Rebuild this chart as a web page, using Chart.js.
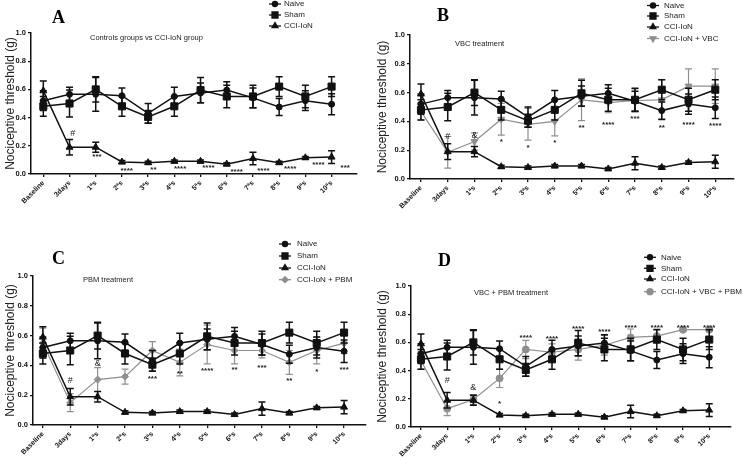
<!DOCTYPE html>
<html><head><meta charset="utf-8">
<script src="https://cdn.jsdelivr.net/npm/chart.js@4/dist/chart.umd.min.js"></script>
<style>
html,body{margin:0;padding:0;background:#fff;}
#wrap{position:relative;width:743px;height:457px;overflow:hidden;background:#fff;}
canvas{position:absolute;}
</style></head><body>
<div id="wrap">
<canvas id="cA" width="372" height="228" style="left:0;top:0;width:372px;height:228px"></canvas>
<canvas id="cB" width="371" height="228" style="left:372px;top:0;width:371px;height:228px"></canvas>
<canvas id="cC" width="372" height="229" style="left:0;top:228px;width:372px;height:229px"></canvas>
<canvas id="cD" width="371" height="229" style="left:372px;top:228px;width:371px;height:229px"></canvas>
</div>
<script>
// ---- data ----
const xLabels = ['Baseline','3days','1ªs','2ªs','3ªs','4ªs','5ªs','6ªs','7ªs','8ªs','9ªs','10ªs'];
const yTicks = [0.0, 0.2, 0.4, 0.6, 0.8, 1.0];
const naive    = [0.52,0.565,0.565,0.555,0.43,0.55,0.575,0.595,0.54,0.475,0.52,0.495];
const naiveErr = [0.07,0.05,0.12,0.055,0.07,0.065,0.07,0.06,0.07,0.06,0.07,0.075];
const sham     = [0.48,0.50,0.60,0.48,0.405,0.48,0.595,0.55,0.55,0.62,0.55,0.62];
const shamErr  = [0.07,0.095,0.09,0.07,0.045,0.07,0.09,0.08,0.08,0.07,0.08,0.07];
const cci      = [0.59,0.19,0.19,0.085,0.08,0.09,0.09,0.07,0.11,0.08,0.115,0.12];
const cciErr   = [0.07,0.055,0.035,0.01,0.01,0.01,0.01,0.01,0.045,0.01,0.01,0.045];
const vbc      = [0.47,0.185,0.26,0.415,0.38,0.40,0.55,0.53,0.545,0.55,0.645,0.645];
const vbcErr   = [0.06,0.11,0.06,0.11,0.11,0.10,0.145,0.07,0.08,0.14,0.12,0.12];
const pbm      = [0.55,0.15,0.305,0.325,0.50,0.42,0.54,0.50,0.50,0.42,0.50,0.55];
const pbmErr   = [0.10,0.06,0.08,0.05,0.06,0.09,0.13,0.09,0.05,0.08,0.09,0.07];
const combo    = [0.47,0.13,0.195,0.345,0.55,0.53,0.55,0.58,0.635,0.645,0.69,0.69];
const comboErr = [0.06,0.05,0.035,0.065,0.065,0.06,0.075,0.07,0.06,0.05,0.01,0.01];
// significance marks: [x index, y value, text]
const notesA = [[1.12,0.29,'#'],[2.05,0.135,'***'],[3.18,0.04,'****'],[4.2,0.047,'**'],[5.22,0.052,'****'],[6.3,0.057,'****'],[7.38,0.033,'****'],[8.4,0.04,'****'],[9.42,0.052,'****'],[10.5,0.076,'****'],[11.52,0.057,'***']];
const notesB = [[1,0.295,'#'],[2,0.30,'&'],[3,0.27,'*'],[4,0.23,'*'],[5,0.265,'*'],[6,0.37,'**'],[7,0.39,'****'],[8,0.43,'***'],[9,0.37,'**'],[10,0.39,'****'],[11,0.38,'****']];
const notesC = [[1,0.30,'#'],[2,0.41,'&'],[4,0.325,'***'],[5,0.36,'**'],[6,0.38,'****'],[7,0.385,'**'],[8,0.40,'***'],[9,0.31,'**'],[10,0.37,'*'],[11,0.385,'***']];
const notesD = [[1,0.33,'#'],[2,0.28,'&'],[3,0.18,'*'],[4,0.645,'****'],[5,0.64,'****'],[6,0.71,'****'],[7,0.69,'****'],[8,0.72,'****'],[9,0.72,'****'],[10,0.72,'****'],[11,0.72,'****']];

// ---- styling ----
const FAM = '"Liberation Sans", Arial, sans-serif';
const BLACK = '#111111';
const GRAY = '#8f8f8f';
const tickFont = {family: FAM, size: 7, weight: 'bold'};

const baseSeries = [
  {label:'Naive', values:naive, err:naiveErr, color:BLACK, style:'circle', r:3, lw:1.5},
  {label:'Sham', values:sham, err:shamErr, color:BLACK, style:'rect', r:5, lw:1.5},
  {label:'CCI-IoN', values:cci, err:cciErr, color:BLACK, style:'triangle', r:4, lw:1.5}
];

const errPlugin = {
  id: 'errbars',
  beforeDatasetDraw(chart, args) {
    const ds = chart.data.datasets[args.index];
    if (!ds.err) return;
    const ctx = chart.ctx, ys = chart.scales.y;
    ctx.save();
    ctx.strokeStyle = ds.borderColor;
    ctx.lineWidth = ds.borderWidth;
    args.meta.data.forEach((pt, i) => {
      const v = ds.data[i].y, e = ds.err[i];
      const y1 = ys.getPixelForValue(v + e), y2 = ys.getPixelForValue(v - e);
      ctx.beginPath();
      ctx.moveTo(pt.x, y1); ctx.lineTo(pt.x, y2);
      ctx.moveTo(pt.x - 3.5, y1); ctx.lineTo(pt.x + 3.5, y1);
      ctx.moveTo(pt.x - 3.5, y2); ctx.lineTo(pt.x + 3.5, y2);
      ctx.stroke();
    });
    ctx.restore();
  }
};

function makeTextPlugin(cfg) {
  return {
    id: 'panelText',
    afterDraw(chart) {
      const ctx = chart.ctx, xs = chart.scales.x, ys = chart.scales.y;
      ctx.save();
      ctx.fillStyle = '#000';
      ctx.textAlign = 'left';
      ctx.textBaseline = 'alphabetic';
      ctx.font = 'bold 18px "Liberation Serif", "DejaVu Serif", serif';
      ctx.fillText(cfg.letter, cfg.letterPos[0], cfg.letterPos[1]);
      ctx.font = '7.5px ' + FAM;
      ctx.fillStyle = '#222';
      ctx.textBaseline = 'middle';
      ctx.fillText(cfg.subtitle, cfg.subPos[0], cfg.subPos[1]);
      chart.data.datasets.forEach((ds, i) => {
        const y = cfg.legend.rows[i], mx = cfg.legend.mx;
        ctx.strokeStyle = ds.borderColor;
        ctx.lineWidth = 1.3;
        ctx.beginPath(); ctx.moveTo(mx - 6, y); ctx.lineTo(mx + 6, y); ctx.stroke();
        ctx.fillStyle = ds.borderColor;
        Chart.helpers.drawPoint(ctx, {pointStyle: ds.pointStyle, rotation: ds.pointRotation, radius: ds.pointRadius * 0.85, borderWidth: 1}, mx, y);
        ctx.fillStyle = '#222';
        ctx.font = '8px ' + FAM;
        ctx.textAlign = 'left';
        ctx.fillText(ds.label, cfg.legend.tx, y);
      });
      ctx.textAlign = 'center';
      cfg.notes.forEach(([xi, yv, t]) => {
        const px = xs.getPixelForValue(xi), py = ys.getPixelForValue(yv);
        const star = t[0] === '*';
        ctx.font = star ? 'bold 8px ' + FAM : '9px ' + FAM;
        ctx.fillStyle = '#222';
        ctx.fillText(t, px, star ? py + 2 : py);
      });
      ctx.restore();
    }
  };
}

function makePanel(id, cfg) {
  const canvas = document.getElementById(id);
  const W = canvas.width, H = canvas.height;
  const axisStyle = {
    grid: {display: true, drawOnChartArea: false, drawTicks: true, tickLength: 3, color: BLACK, lineWidth: 1.3},
    border: {display: true, color: BLACK, width: 1.5}
  };
  return new Chart(canvas, {
    type: 'line',
    data: {
      datasets: cfg.series.map(s => ({
        label: s.label,
        data: s.values.map((v, i) => ({x: i, y: v})),
        err: s.err,
        borderColor: s.color, backgroundColor: s.color, borderWidth: s.lw,
        pointStyle: s.style, pointRotation: s.rot || 0, pointRadius: s.r, pointBorderWidth: 1,
        pointBackgroundColor: s.color, pointBorderColor: s.color,
        tension: 0, clip: false
      }))
    },
    options: {
      responsive: false, animation: false, devicePixelRatio: 1,
      events: [],
      layout: {padding: {top: cfg.area.top, right: W - cfg.area.right, left: 0, bottom: 0}},
      plugins: {legend: {display: false}, tooltip: {enabled: false}},
      scales: {
        x: Object.assign({
          type: 'linear', min: cfg.xmin, max: cfg.xmax,
          afterBuildTicks: sc => { sc.ticks = xLabels.map((_, i) => ({value: i})); },
          afterFit: sc => { sc.height = H - cfg.area.bottom; },
          ticks: {callback: v => xLabels[v], minRotation: 45, maxRotation: 45, autoSkip: false, font: tickFont, color: BLACK, padding: 2}
        }, axisStyle),
        y: Object.assign({
          min: 0, max: 1,
          afterBuildTicks: sc => { sc.ticks = yTicks.map(v => ({value: v})); },
          afterFit: sc => { sc.width = cfg.area.left; },
          ticks: {callback: v => v.toFixed(1), font: {family: FAM, size: 7.5, weight: 'bold'}, color: BLACK, padding: 2},
          title: {display: true, text: 'Nociceptive threshold (g)', font: {family: FAM, size: 12}, color: '#222', padding: {top: 3, bottom: 0}}
        }, axisStyle)
      }
    },
    plugins: [errPlugin, makeTextPlugin(cfg)]
  });
}

makePanel('cA', {
  series: baseSeries,
  area: {left: 31, right: 357, top: 33, bottom: 174}, xmin: -0.47, xmax: 11.97,
  letter: 'A', letterPos: [52, 23], subtitle: 'Controls groups vs CCI-IoN group', subPos: [90, 38],
  legend: {mx: 275, tx: 284, rows: [4, 15, 26]}, notes: notesA
});
makePanel('cB', {
  series: baseSeries.concat([{label:'CCI-IoN + VBC', values:vbc, err:vbcErr, color:GRAY, style:'triangle', rot:180, r:4, lw:1.2}]),
  area: {left: 38, right: 362, top: 35, bottom: 179}, xmin: -0.41, xmax: 11.70,
  letter: 'B', letterPos: [65, 21], subtitle: 'VBC treatment', subPos: [83, 44],
  legend: {mx: 281, tx: 292, rows: [5.5, 16, 27, 38.5]}, notes: notesB
});
makePanel('cC', {
  series: baseSeries.concat([{label:'CCI-IoN + PBM', values:pbm, err:pbmErr, color:GRAY, style:'rectRot', r:3.5, lw:1.2}]),
  area: {left: 33, right: 370, top: 48, bottom: 197}, xmin: -0.36, xmax: 11.8,
  letter: 'C', letterPos: [52, 36], subtitle: 'PBM treatment', subPos: [83, 52],
  legend: {mx: 285, tx: 297, rows: [16, 28, 40, 51.7]}, notes: notesC
});
makePanel('cD', {
  series: baseSeries.concat([{label:'CCI-IoN + VBC + PBM', values:combo, err:comboErr, color:GRAY, style:'circle', r:3.5, lw:1.2}]),
  area: {left: 39, right: 359, top: 58, bottom: 199}, xmin: -0.38, xmax: 11.83,
  letter: 'D', letterPos: [66, 38], subtitle: 'VBC + PBM treatment', subPos: [102, 65],
  legend: {mx: 278, tx: 289, rows: [29.3, 40.3, 51, 63.7]}, notes: notesD
});
</script>
</body></html>
